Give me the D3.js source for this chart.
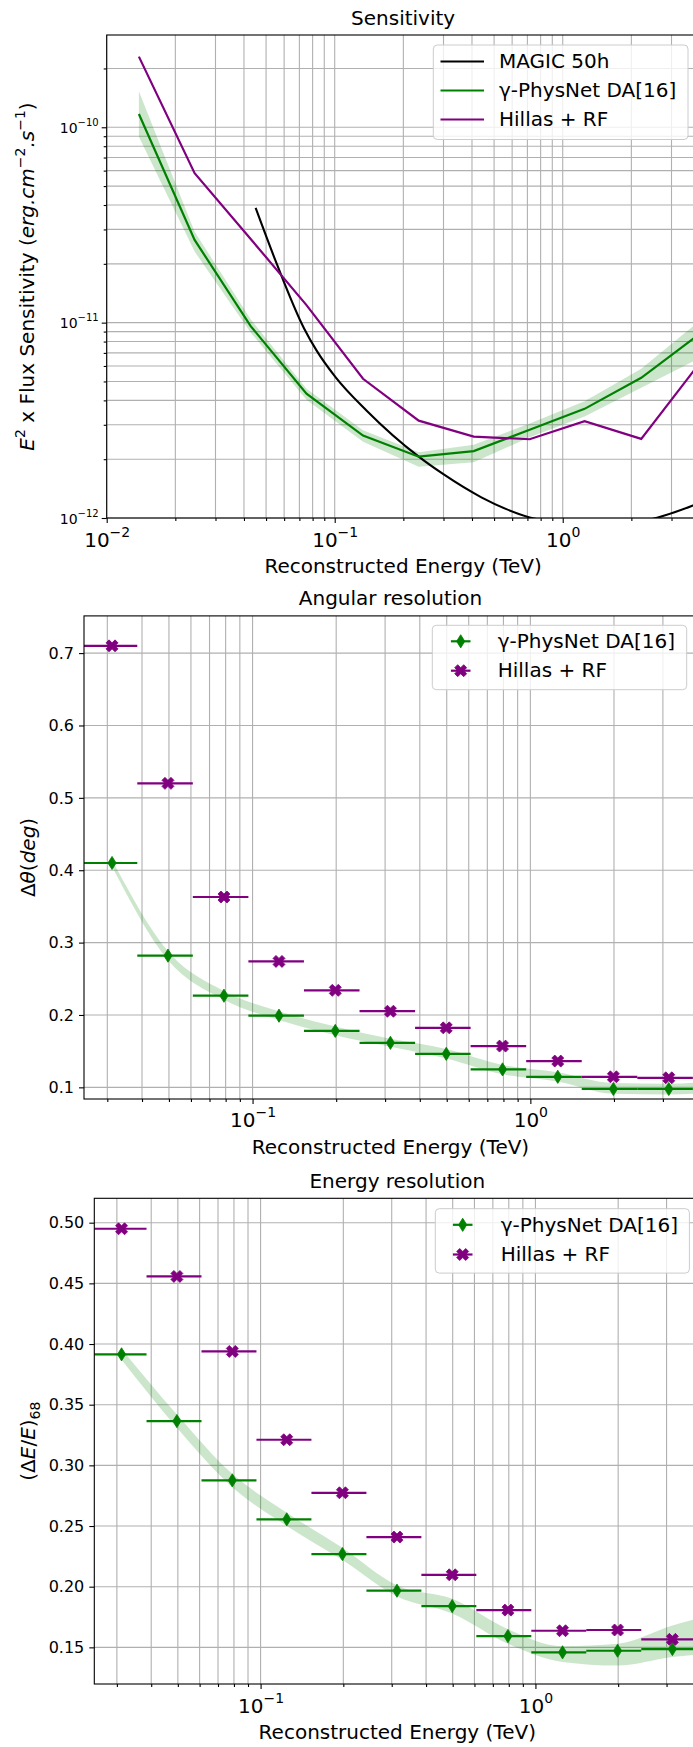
<!DOCTYPE html>
<html><head><meta charset="utf-8">
<script src="https://cdn.jsdelivr.net/npm/d3@7"></script>
<style>body{margin:0;background:#fff;} svg{display:block;}</style>
</head><body>
<script>
// ---------------- DATA ----------------
// Sensitivity panel
const sensEnergy      = [0.01384, 0.0243, 0.0428, 0.0752, 0.1331, 0.2336, 0.407, 0.716, 1.247, 2.21, 3.9];
const physnetSens     = [1.17e-10, 2.65e-11, 9.6e-12, 4.33e-12, 2.64e-12, 2.06e-12, 2.20e-12, 2.83e-12, 3.62e-12, 5.22e-12, 8.6e-12];
const physnetSensLow  = [8.95e-11, 2.31e-11, 8.9e-12, 4.03e-12, 2.46e-12, 1.83e-12, 1.93e-12, 2.59e-12, 3.31e-12, 4.64e-12, 6.5e-12];
const physnetSensHigh = [1.53e-10, 2.92e-11, 1.04e-11, 4.59e-12, 2.81e-12, 2.17e-12, 2.37e-12, 3.05e-12, 3.96e-12, 5.81e-12, 1.0e-11];
const hillasSens      = [2.30e-10, 5.82e-11, 2.68e-11, 1.23e-11, 5.16e-12, 3.15e-12, 2.61e-12, 2.53e-12, 3.13e-12, 2.54e-12, 6.0e-12];
const magicEnergy     = [0.04498, 0.0556, 0.0735, 0.0832, 0.1008, 0.1378, 0.2336, 0.2985, 0.4397, 0.5662, 0.7163, 1.0, 1.6, 2.57, 3.7, 4.0];
const magicSens       = [3.87e-11, 2.01e-11, 9.31e-12, 7.21e-12, 5.26e-12, 3.55e-12, 2.06e-12, 1.68e-12, 1.276e-12, 1.11e-12, 1.007e-12, 9.4e-13, 9.0e-13, 1.0e-12, 1.156e-12, 1.2e-12];

// Resolution panels: energy bins (TeV)
const binLow    = [0.02427, 0.03846, 0.06095, 0.0966, 0.1531, 0.2427, 0.3846, 0.6095, 0.966, 1.531, 2.427];
const binHigh   = [0.03846, 0.06095, 0.0966, 0.1531, 0.2427, 0.3846, 0.6095, 0.966, 1.531, 2.427, 3.846];
const binCenter = [0.0312, 0.0496, 0.0789, 0.1245, 0.1985, 0.3135, 0.498, 0.794, 1.255, 1.99, 3.15];
const bandEnergy = [0.0312, 0.0496, 0.0789, 0.1245, 0.1985, 0.3135, 0.498, 0.794, 1.255, 1.99, 3.15, 4.97];

// Angular resolution (deg)
const angPhysNet  = [0.410, 0.282, 0.2266, 0.199, 0.178, 0.1615, 0.1463, 0.1248, 0.1146, 0.0977, 0.0977];
const angHillas   = [0.710, 0.520, 0.363, 0.274, 0.234, 0.2052, 0.1822, 0.157, 0.1363, 0.1146, 0.1132];
const angBandLow  = [0.405, 0.276, 0.221, 0.193, 0.172, 0.156, 0.140, 0.118, 0.108, 0.091, 0.090, 0.094];
const angBandHigh = [0.414, 0.288, 0.233, 0.205, 0.184, 0.167, 0.153, 0.131, 0.121, 0.106, 0.105, 0.111];

// Energy resolution
const enPhysNet  = [0.3915, 0.3365, 0.2876, 0.2555, 0.2269, 0.1967, 0.184, 0.1593, 0.1459, 0.1472, 0.1486];
const enHillas   = [0.495, 0.4557, 0.3939, 0.3211, 0.2774, 0.2409, 0.2098, 0.1807, 0.1637, 0.1643, 0.1566];
const enBandLow  = [0.387, 0.331, 0.282, 0.250, 0.222, 0.192, 0.178, 0.153, 0.138, 0.135, 0.142, 0.146];
const enBandHigh = [0.396, 0.342, 0.293, 0.261, 0.232, 0.201, 0.190, 0.165, 0.151, 0.153, 0.168, 0.180];

// Ticks and labels
const sensXMajor = [0.01, 0.1, 1];
const sensYMajor = [1e-12, 1e-11, 1e-10];
const resXMajor  = [0.1, 1];
const angYTicks  = [0.1, 0.2, 0.3, 0.4, 0.5, 0.6, 0.7];
const enYTicks   = [0.15, 0.20, 0.25, 0.30, 0.35, 0.40, 0.45, 0.50];
const sensNames  = ['MAGIC 50h', 'γ-PhysNet DA[16]', 'Hillas + RF'];
const resNames   = ['γ-PhysNet DA[16]', 'Hillas + RF'];
const titles     = ['Sensitivity', 'Angular resolution', 'Energy resolution'];
const xLabel     = 'Reconstructed Energy (TeV)';

// ---------------- DRAWING ----------------
const W = 693, H = 1747;
const FONT = '"DejaVu Sans", Verdana, sans-serif';
const GREEN = 'green', PURPLE = 'purple', GRID = '#b0b0b0';

const svg = d3.select('body').append('svg').attr('width', W).attr('height', H)
  .style('font-family', FONT);
svg.append('rect').attr('width', W).attr('height', H).attr('fill', '#fff');
const defs = svg.append('defs');

function logMinor(domain) {
  const out = [];
  const lo = Math.floor(Math.log10(domain[0])), hi = Math.ceil(Math.log10(domain[1]));
  for (let e = lo; e <= hi; e++) for (let m = 2; m <= 9; m++) {
    const v = m * Math.pow(10, e);
    if (v >= domain[0] && v <= domain[1]) out.push(v);
  }
  return out;
}
function expText(d) {
  const e = Math.round(Math.log10(d));
  return e < 0 ? '\u2212' + (-e) : String(e);
}
function pow10(t, d, supSize, supDy) {
  t.text(null);
  t.append('tspan').text('10');
  t.append('tspan').attr('font-size', supSize).attr('dy', supDy).text(expText(d));
}

function makePanel(o) {
  const x = d3.scaleLog().domain(o.xDomain).range([o.left, o.right]);
  const y = (o.yLog ? d3.scaleLog() : d3.scaleLinear()).domain(o.yDomain).range([o.bottom, o.top]);
  const g = svg.append('g');
  const id = 'clip' + o.id;
  defs.append('clipPath').attr('id', id).append('rect')
    .attr('x', o.left).attr('y', o.top).attr('width', o.right - o.left).attr('height', o.bottom - o.top);
  const xMinor = logMinor(o.xDomain);
  const yMinor = o.yLog ? logMinor(o.yDomain) : [];
  const grid = g.append('g').attr('stroke', GRID).attr('stroke-width', 1.1);
  grid.selectAll('line.gx').data(o.xMajor.concat(xMinor)).join('line').attr('class', 'gx')
    .attr('x1', d => x(d)).attr('x2', d => x(d)).attr('y1', o.top).attr('y2', o.bottom);
  grid.selectAll('line.gy').data(o.yMajor.concat(yMinor)).join('line').attr('class', 'gy')
    .attr('y1', d => y(d)).attr('y2', d => y(d)).attr('x1', o.left).attr('x2', o.right);
  const plot = g.append('g').attr('clip-path', `url(#${id})`);
  return { x, y, g, plot, o, xMinor, yMinor };
}

function drawAxes(p) {
  const o = p.o, g = p.g;
  g.append('rect').attr('x', o.left).attr('y', o.top).attr('width', o.right - o.left)
    .attr('height', o.bottom - o.top).attr('fill', 'none').attr('stroke', '#000').attr('stroke-width', 1.1);
  const styleTicks = a => { a.select('.domain').remove(); a.selectAll('line').attr('stroke', '#000').attr('stroke-width', 1.1); };
  // x minor
  g.append('g').attr('transform', `translate(0,${o.bottom})`)
    .call(d3.axisBottom(p.x).tickValues(p.xMinor).tickSize(3).tickFormat(() => ''))
    .call(styleTicks);
  // x major
  g.append('g').attr('transform', `translate(0,${o.bottom})`)
    .call(d3.axisBottom(p.x).tickValues(o.xMajor).tickSize(5).tickFormat(() => ''))
    .call(styleTicks)
    .call(a => a.selectAll('text').attr('y', o.xTickBase).attr('dy', null)
      .attr('font-size', 20).attr('font-family', FONT).attr('fill', '#000')
      .each(function (d) { pow10(d3.select(this), d, 14, -10); }));
  if (o.yLog) {
    g.append('g').attr('transform', `translate(${o.left},0)`)
      .call(d3.axisLeft(p.y).tickValues(p.yMinor).tickSize(3).tickFormat(() => ''))
      .call(styleTicks);
    g.append('g').attr('transform', `translate(${o.left},0)`)
      .call(d3.axisLeft(p.y).tickValues(o.yMajor).tickSize(5).tickFormat(() => ''))
      .call(styleTicks)
      .call(a => a.selectAll('text').attr('x', -8).attr('dy', null).attr('y', 5)
        .attr('font-size', 14).attr('font-family', FONT).attr('fill', '#000')
        .each(function (d) { pow10(d3.select(this), d, 10, -7); }));
  } else {
    g.append('g').attr('transform', `translate(${o.left},0)`)
      .call(d3.axisLeft(p.y).tickValues(o.yMajor).tickSize(5).tickPadding(5).tickFormat(d3.format(o.yFmt)))
      .call(styleTicks)
      .call(a => a.selectAll('text').attr('font-size', 16).attr('font-family', FONT).attr('fill', '#000').attr('dy', '0.33em'));
  }
  const cx = (o.left + o.right) / 2;
  g.append('text').attr('x', cx).attr('y', o.top - 10.5).attr('text-anchor', 'middle')
    .attr('font-size', 20).attr('fill', '#000').text(o.title);
  g.append('text').attr('x', cx).attr('y', o.bottom + 55).attr('text-anchor', 'middle')
    .attr('font-size', 20).attr('fill', '#000').text(xLabel);
}

function legendBox(x0, y0, w, h) {
  svg.append('rect').attr('x', x0).attr('y', y0).attr('width', w).attr('height', h)
    .attr('rx', 4).attr('fill', '#fff').attr('fill-opacity', 0.8)
    .attr('stroke', '#cccccc').attr('stroke-width', 1);
}

const diamondPath = 'M0,-6.6L4.1,0L0,6.6L-4.1,0Z';
const xVerts = [[-1,-2],[0,-1],[1,-2],[2,-1],[1,0],[2,1],[1,2],[0,1],[-1,2],[-2,1],[-1,0],[-2,-1]];
const xPath = 'M' + xVerts.map(v => (v[0] * 3) + ',' + (v[1] * 3)).join('L') + 'Z';

// ===== Panel 1: Sensitivity =====
const p1 = makePanel({ id: 1, left: 106.7, right: 699.5, top: 35, bottom: 518,
  xDomain: [0.01, 3.98], yDomain: [1e-12, 2.967e-10], yLog: true,
  xMajor: sensXMajor, yMajor: sensYMajor, title: titles[0], xTickBase: 29 });
{
  const bandData = sensEnergy.map((e, i) => ({ e, lo: physnetSensLow[i], hi: physnetSensHigh[i] }));
  p1.plot.append('path').datum(bandData)
    .attr('d', d3.area().x(d => p1.x(d.e)).y0(d => p1.y(d.lo)).y1(d => p1.y(d.hi)))
    .attr('fill', GREEN).attr('fill-opacity', 0.2);
  const line = d3.line().x(d => p1.x(d[0])).y(d => p1.y(d[1]));
  p1.plot.append('path').datum(magicEnergy.map((e, i) => [e, magicSens[i]]))
    .attr('d', line.curve(d3.curveMonotoneX)).attr('fill', 'none').attr('stroke', '#000').attr('stroke-width', 2.1);
  const lin = d3.line().x(d => p1.x(d[0])).y(d => p1.y(d[1]));
  p1.plot.append('path').datum(sensEnergy.map((e, i) => [e, physnetSens[i]]))
    .attr('d', lin).attr('fill', 'none').attr('stroke', GREEN).attr('stroke-width', 2.2);
  p1.plot.append('path').datum(sensEnergy.map((e, i) => [e, hillasSens[i]]))
    .attr('d', lin).attr('fill', 'none').attr('stroke', PURPLE).attr('stroke-width', 2.2);
  drawAxes(p1);
  // y label
  const t = svg.append('text').attr('transform', 'translate(33.5,' + ((35 + 518) / 2) + ') rotate(-90)')
    .attr('text-anchor', 'middle').attr('font-size', 20).attr('fill', '#000');
  t.append('tspan').attr('font-style', 'italic').text('E');
  t.append('tspan').attr('font-size', 14).attr('dy', -9).text('2');
  t.append('tspan').attr('dy', 9).text(' x Flux Sensitivity (');
  t.append('tspan').attr('font-style', 'italic').text('erg.cm');
  t.append('tspan').attr('font-size', 14).attr('dy', -9).text('\u22122');
  t.append('tspan').attr('dy', 9).attr('font-style', 'italic').text('.s');
  t.append('tspan').attr('font-size', 14).attr('dy', -9).text('\u22121');
  t.append('tspan').attr('dy', 9).text(')');
  // legend
  legendBox(433.3, 45, 254.7, 94.5);
  const colors = ['#000', GREEN, PURPLE];
  const rows = [61.5, 90.5, 119.5];
  sensNames.forEach((nm, i) => {
    svg.append('line').attr('x1', 440.5).attr('x2', 484).attr('y1', rows[i]).attr('y2', rows[i])
      .attr('stroke', colors[i]).attr('stroke-width', 2.2);
    svg.append('text').attr('x', 499).attr('y', rows[i] + 6.7).attr('font-size', 20).attr('fill', '#000').text(nm);
  });
}

// ===== Resolution panel helper =====
function resolutionPanel(p, phys, hillas, bLow, bHigh, legend) {
  const bandData = bandEnergy.map((e, i) => ({ e, lo: bLow[i], hi: bHigh[i] }));
  p.plot.append('path').datum(bandData)
    .attr('d', d3.area().curve(d3.curveMonotoneX).x(d => p.x(d.e)).y0(d => p.y(d.lo)).y1(d => p.y(d.hi)))
    .attr('fill', GREEN).attr('fill-opacity', 0.2);
  [[phys, GREEN, diamondPath], [hillas, PURPLE, xPath]].forEach(([vals, col, path]) => {
    const gg = p.plot.append('g');
    gg.selectAll('line').data(vals).join('line')
      .attr('x1', (d, i) => p.x(binLow[i])).attr('x2', (d, i) => p.x(binHigh[i]))
      .attr('y1', d => p.y(d)).attr('y2', d => p.y(d))
      .attr('stroke', col).attr('stroke-width', 2.2);
    gg.selectAll('path').data(vals).join('path')
      .attr('transform', (d, i) => `translate(${p.x(binCenter[i])},${p.y(d)})`)
      .attr('d', path).attr('fill', col).attr('stroke', col).attr('stroke-width', 0.8);
  });
  drawAxes(p);
  legendBox(legend.x, legend.y, legend.w, legend.h);
  [[GREEN, diamondPath], [PURPLE, xPath]].forEach(([col, path], i) => {
    const ry = legend.rows[i];
    svg.append('line').attr('x1', legend.mx - 9.8).attr('x2', legend.mx + 9.8).attr('y1', ry).attr('y2', ry)
      .attr('stroke', col).attr('stroke-width', 2.2);
    svg.append('path').attr('transform', `translate(${legend.mx},${ry})`).attr('d', path)
      .attr('fill', col).attr('stroke', col).attr('stroke-width', 0.8);
    svg.append('text').attr('x', legend.tx).attr('y', ry + 6.7).attr('font-size', 20).attr('fill', '#000').text(resNames[i]);
  });
}

// ===== Panel 2: Angular resolution =====
const p2 = makePanel({ id: 2, left: 84, right: 697, top: 615.9, bottom: 1099,
  xDomain: [0.02473, 3.98], yDomain: [0.0839, 0.7514], yLog: false,
  xMajor: resXMajor, yMajor: angYTicks, yFmt: '.1f', title: titles[1], xTickBase: 28 });
resolutionPanel(p2, angPhysNet, angHillas, angBandLow, angBandHigh,
  { x: 432.3, y: 625.3, w: 254.4, h: 64.4, rows: [641.3, 670.7], mx: 460.7, tx: 497.7 });
{
  const t = svg.append('text').attr('transform', 'translate(34.5,' + ((615.9 + 1099) / 2) + ') rotate(-90)')
    .attr('text-anchor', 'middle').attr('font-size', 20).attr('fill', '#000');
  t.append('tspan').text('\u0394');
  t.append('tspan').attr('font-style', 'italic').text('\u03b8');
  t.append('tspan').text('(');
  t.append('tspan').attr('font-style', 'italic').text('deg');
  t.append('tspan').text(')');
}

// ===== Panel 3: Energy resolution =====
const p3 = makePanel({ id: 3, left: 94.3, right: 700.3, top: 1198.3, bottom: 1684,
  xDomain: [0.02483, 3.98], yDomain: [0.1198, 0.5201], yLog: false,
  xMajor: resXMajor, yMajor: enYTicks, yFmt: '.2f', title: titles[2], xTickBase: 29 });
resolutionPanel(p3, enPhysNet, enHillas, enBandLow, enBandHigh,
  { x: 435.3, y: 1208.7, w: 254.1, h: 64.4, rows: [1224.8, 1254.5], mx: 462.7, tx: 500.7 });
{
  const t = svg.append('text').attr('transform', 'translate(34.5,' + ((1198.3 + 1684) / 2) + ') rotate(-90)')
    .attr('text-anchor', 'middle').attr('font-size', 20).attr('fill', '#000');
  t.append('tspan').text('(\u0394');
  t.append('tspan').attr('font-style', 'italic').text('E');
  t.append('tspan').text('/');
  t.append('tspan').attr('font-style', 'italic').text('E');
  t.append('tspan').text(')');
  t.append('tspan').attr('font-size', 14).attr('dy', 5).text('68');
}
</script>
</body></html>
